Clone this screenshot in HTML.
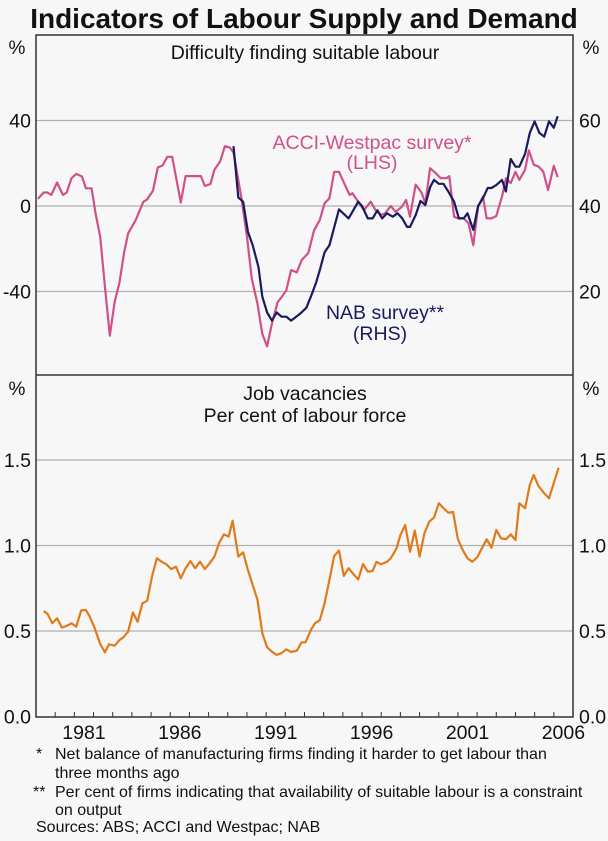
<!DOCTYPE html>
<html><head><meta charset="utf-8">
<style>
html,body{margin:0;padding:0;background:#f7f7f7;}
svg{display:block;font-family:"Liberation Sans",Arial,sans-serif;}
</style></head>
<body>
<svg id="chart" width="608" height="841" viewBox="0 0 608 841" xmlns="http://www.w3.org/2000/svg">
<rect x="0" y="0" width="608" height="841" fill="#f7f7f7"/>
<text x="304" y="28" text-anchor="middle" font-size="28" font-weight="bold" fill="#111">Indicators of Labour Supply and Demand</text>
<g id="grid"></g>
<g id="series"></g>
<rect x="36" y="35" width="537" height="682" fill="none" stroke="#333" stroke-width="1.5"/>
<line x1="36" y1="375" x2="573" y2="375" stroke="#333" stroke-width="1.5"/>
<g id="ticks"></g>
<g id="labels" font-size="19.5" fill="#111"></g>
<text x="17" y="54" font-size="19" text-anchor="middle" fill="#111">%</text>
<text x="591" y="54" font-size="19" text-anchor="middle" fill="#111">%</text>
<text x="17" y="395" font-size="19" text-anchor="middle" fill="#111">%</text>
<text x="591" y="395" font-size="19" text-anchor="middle" fill="#111">%</text>
<text x="305" y="59" font-size="19.5" text-anchor="middle" fill="#111">Difficulty finding suitable labour</text>
<text x="305" y="400" font-size="19.5" text-anchor="middle" fill="#111">Job vacancies</text>
<text x="305" y="422" font-size="19.5" text-anchor="middle" fill="#111">Per cent of labour force</text>
<text x="372" y="149" font-size="19.5" text-anchor="middle" fill="#d0508a">ACCI-Westpac survey*</text>
<text x="372" y="169" font-size="19.5" text-anchor="middle" fill="#d0508a">(LHS)</text>
<text x="385" y="319" font-size="19.5" text-anchor="middle" fill="#1a1a5e">NAB survey**</text>
<text x="380" y="340" font-size="19.5" text-anchor="middle" fill="#1a1a5e">(RHS)</text>
<g font-size="16" fill="#111">
<text x="36" y="759">*</text>
<text x="55" y="759">Net balance of manufacturing firms finding it harder to get labour than</text>
<text x="55" y="778">three months ago</text>
<text x="33" y="797">**</text>
<text x="55" y="797">Per cent of firms indicating that availability of suitable labour is a constraint</text>
<text x="55" y="815">on output</text>
<text x="36" y="832">Sources: ABS; ACCI and Westpac; NAB</text>
</g>
</svg>
<script>
const acciYears=[1979.1,1979.4,1979.6,1979.8,1980.1,1980.4,1980.6,1980.85,1981.1,1981.4,1981.6,1981.9,1982.1,1982.35,1982.6,1982.85,1983.1,1983.35,1983.6,1983.8,1984.2,1984.6,1984.8,1985.1,1985.35,1985.6,1985.85,1986.1,1986.55,1986.8,1987.6,1987.8,1988.1,1988.3,1988.6,1988.85,1989.1,1989.3,1989.7,1990.0,1990.25,1990.55,1990.8,1991.05,1991.3,1991.6,1991.8,1992.05,1992.3,1992.6,1992.85,1993.2,1993.5,1993.8,1994.05,1994.3,1994.55,1994.8,1995.1,1995.35,1995.5,1995.8,1996.1,1996.45,1996.7,1997.0,1997.2,1997.5,1997.75,1998.05,1998.3,1998.5,1998.8,1999.1,1999.3,1999.55,1999.8,2000.1,2000.4,2000.55,2000.8,2001.0,2001.3,2001.55,2001.8,2002.05,2002.3,2002.5,2002.75,2003.0,2003.3,2003.5,2003.75,2004.0,2004.2,2004.5,2004.7,2004.95,2005.2,2005.45,2005.7,2006.0,2006.2];
const acciValues=[3.3,6.3,6.3,5.2,11,5.2,6.3,13,15,13.8,8.3,8.3,-3.3,-14.4,-38,-60.7,-45,-36,-21.5,-12.8,-6.6,2,3.1,7.2,18,19,23,23,1.6,14,14,9.4,10.3,17,20.8,28,27.4,25,4.4,-14.4,-34,-45.8,-59.8,-65.7,-55,-45,-42.7,-39.5,-30,-31,-25.4,-22,-11.3,-6.6,1.3,3.6,16,16,10,5.2,6,2,-1.9,2,-1.9,-4.2,-3.4,0,-2.7,-0.6,2.8,-5,10,6.3,1.3,17.7,15.7,13,13,14,-5,-5.8,-5.8,-8,-18.4,-0.3,4.4,-5.8,-5.8,-4.7,4.4,13,10.7,16,12.2,17,26,19.3,18.5,16,7.5,18.8,13.5];
const nabYears=[1989.3,1989.55,1989.8,1990.05,1990.3,1990.6,1990.8,1991.05,1991.3,1991.55,1991.8,1992.05,1992.3,1992.6,1992.85,1993.1,1993.35,1993.6,1993.8,1994.05,1994.3,1994.8,1995.3,1995.8,1996.0,1996.3,1996.55,1996.8,1997.05,1997.3,1997.6,1997.85,1998.1,1998.35,1998.5,1998.8,1999.05,1999.3,1999.55,1999.75,2000.0,2000.25,2000.5,2000.8,2001.05,2001.3,2001.5,2001.8,2002.05,2002.3,2002.55,2002.75,2003.0,2003.3,2003.5,2003.75,2004.0,2004.2,2004.5,2004.75,2005.0,2005.25,2005.5,2005.75,2006.0,2006.2];
const nabValues=[54,42,41,34,30.8,25.7,18.8,15.1,13.2,15.1,14.1,14.1,13.2,14.2,15.1,16.2,19,22,25,29.2,30.8,39.2,37.1,41,40,37.1,37.1,39,37.1,38.3,37.5,38.3,37.1,35.1,35.1,37.9,41.2,40.2,44.4,46.1,45.2,45.2,43.4,41,37.1,37.1,38.3,34.4,40,41.8,44.2,44.2,44.9,46.1,43.4,51,49.2,49.2,52.2,57.1,59.8,57.1,56.2,59.8,58.3,61];
const vacYears=[1979.4,1979.6,1979.85,1980.1,1980.35,1980.6,1980.85,1981.1,1981.35,1981.6,1981.8,1982.05,1982.35,1982.6,1982.8,1983.1,1983.35,1983.55,1983.8,1984.05,1984.3,1984.55,1984.8,1985.05,1985.3,1985.55,1985.8,1986.05,1986.3,1986.55,1986.8,1987.05,1987.3,1987.55,1987.8,1988.05,1988.3,1988.55,1988.8,1989.05,1989.25,1989.55,1989.8,1990.05,1990.55,1990.8,1991.05,1991.3,1991.55,1991.8,1992.05,1992.3,1992.6,1992.85,1993.05,1993.35,1993.55,1993.8,1994.05,1994.3,1994.55,1994.8,1995.05,1995.3,1995.55,1995.8,1996.05,1996.3,1996.55,1996.75,1997.0,1997.3,1997.5,1997.8,1998.0,1998.25,1998.5,1998.75,1999.0,1999.25,1999.5,1999.75,2000.0,2000.3,2000.5,2000.75,2001.0,2001.25,2001.5,2001.75,2002.0,2002.25,2002.5,2002.75,2003.0,2003.25,2003.5,2003.75,2004.0,2004.2,2004.5,2004.75,2004.95,2005.2,2005.5,2005.75,2006.25];
const vacValues=[0.617,0.60,0.545,0.574,0.52,0.53,0.545,0.525,0.62,0.623,0.584,0.52,0.424,0.375,0.422,0.414,0.447,0.463,0.496,0.609,0.554,0.662,0.677,0.818,0.925,0.905,0.89,0.862,0.876,0.808,0.867,0.909,0.867,0.905,0.862,0.896,0.935,1.016,1.065,1.052,1.145,0.935,0.96,0.857,0.681,0.487,0.405,0.379,0.36,0.37,0.393,0.377,0.385,0.434,0.434,0.51,0.545,0.564,0.662,0.798,0.939,0.97,0.822,0.867,0.833,0.802,0.892,0.847,0.851,0.904,0.89,0.905,0.925,0.984,1.061,1.12,0.964,1.087,0.935,1.071,1.139,1.163,1.247,1.212,1.192,1.196,1.036,0.974,0.925,0.905,0.929,0.984,1.036,0.987,1.091,1.042,1.036,1.065,1.032,1.247,1.218,1.354,1.412,1.348,1.305,1.276,1.455];
const leftTopTicks=[40,0,-40];
const rightTopTicks=[60,40,20];
const bottomTicks=[1.5,1.0,0.5,0.0];
const yearLabels=[1981,1986,1991,1996,2001,2006];

const NS='http://www.w3.org/2000/svg';
const X0=36,X1=573,Y0=1979,Y1=2007;
function xs(y){return X0+(y-Y0)/(Y1-Y0)*(X1-X0);}
function yL(v){return 206-v/40*85.5;}
function yR(v){return 206-(v-40)/20*85.5;}
function yB(v){return 716.5-v/0.5*85.5;}
function mk(tag,attrs,parent){const e=document.createElementNS(NS,tag);for(const k in attrs)e.setAttribute(k,attrs[k]);parent.appendChild(e);return e;}
const grid=document.getElementById('grid'),ser=document.getElementById('series'),tk=document.getElementById('ticks'),lb=document.getElementById('labels');

leftTopTicks.forEach((v,i)=>{
  const y=yL(v);
  const g=mk('line',{x1:X0,x2:X1,y1:y,y2:y,stroke:'#b0b0b0','stroke-width':1.2},grid);
  
  
  const t=mk('text',{x:31,y:y+7,'text-anchor':'end'},lb);t.textContent=v;
  
  
  const r=mk('text',{x:579,y:yR(rightTopTicks[i])+7,'text-anchor':'start'},lb);r.textContent=rightTopTicks[i];
  
  
});
bottomTicks.forEach(v=>{
  const y=yB(v);
  if(v>0){const g=mk('line',{x1:X0,x2:X1,y1:y,y2:y,stroke:'#b0b0b0','stroke-width':1.2},grid);
  
  }
  const t=mk('text',{x:31,y:y+7,'text-anchor':'end'},lb);t.textContent=v.toFixed(1);
  
  
  const r=mk('text',{x:579,y:y+7,'text-anchor':'start'},lb);r.textContent=v.toFixed(1);
  
  
});
for(let yr=Y0+1;yr<Y1;yr++){
  const x=xs(yr);
  const l=mk('line',{x1:x,x2:x,y1:717,y2:712,stroke:'#333','stroke-width':1},tk);
  
  
}
yearLabels.forEach(yr=>{
  const t=mk('text',{x:xs(yr+0.5),y:739,'text-anchor':'middle'},lb);t.textContent=yr;
  
  
});
function line(xsArr,vals,yf,color,name){
  const d=xsArr.map((y,i)=>(i?'L':'M')+xs(y).toFixed(1)+','+yf(vals[i]).toFixed(1)).join('');
  const p=mk('path',{d:d,fill:'none',stroke:color,'stroke-width':2.2,'stroke-linejoin':'round'},ser);
  
  
}
line(acciYears,acciValues,yL,'#d0508a','acci-westpac-line');
line(nabYears,nabValues,yR,'#1a1a5e','nab-survey-line');
line(vacYears,vacValues,yB,'#e07a1a','job-vacancies-line');
</script>
</body></html>
